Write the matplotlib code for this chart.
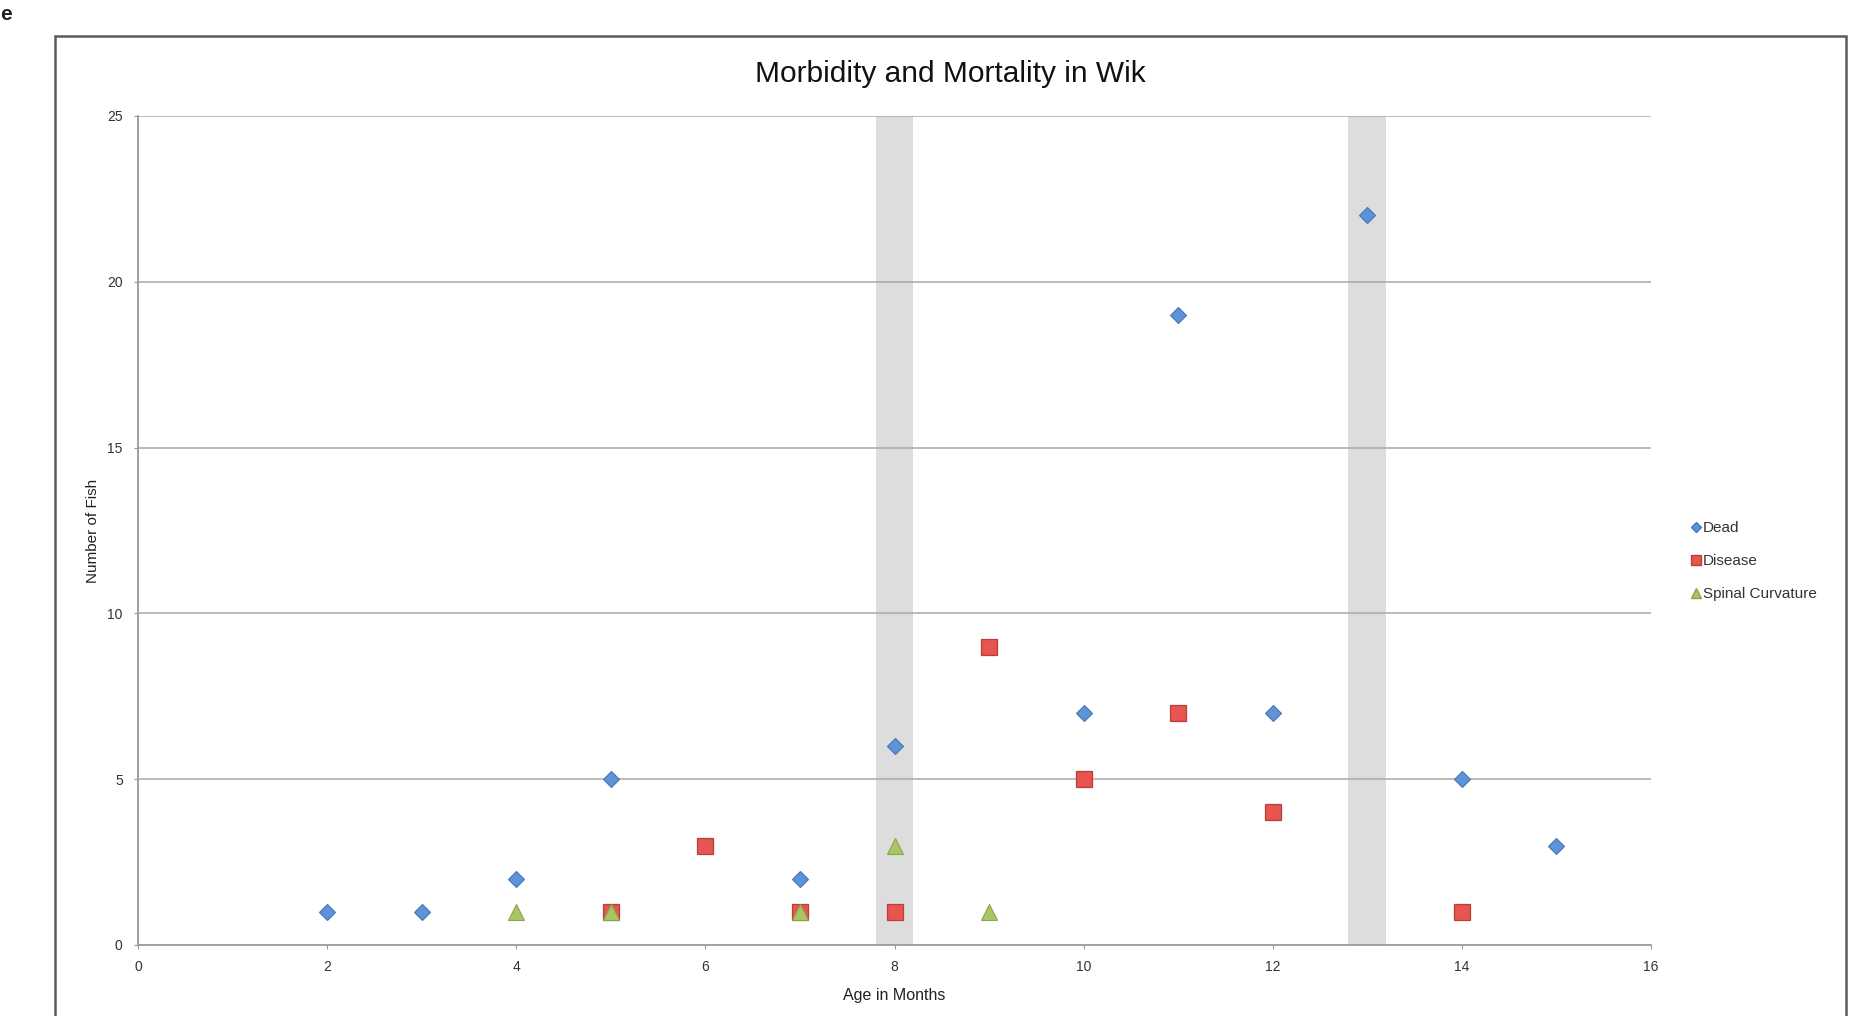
import matplotlib
matplotlib.use("Agg")
import matplotlib.pyplot as plt
from matplotlib.patches import Rectangle
from matplotlib.lines import Line2D

plt.rcParams['font.family'] = ['Liberation Sans', 'DejaVu Sans']

# Age (months) vs number of fish
dead_age = [2, 3, 4, 5, 7, 8, 10, 11, 12, 13, 14, 15]
dead_count = [1, 1, 2, 5, 2, 6, 7, 19, 7, 22, 5, 3]

disease_age = [5, 6, 7, 8, 9, 10, 11, 12, 14]
disease_count = [1, 3, 1, 1, 9, 5, 7, 4, 1]

spinal_age = [4, 5, 7, 8, 9]
spinal_count = [1, 1, 1, 3, 1]

# highlighted months
shaded_months = [8, 13]
shade_halfwidth = 0.2

x_ticks = [0, 2, 4, 6, 8, 10, 12, 14, 16]
y_ticks = [0, 5, 10, 15, 20, 25]

fig = plt.figure(figsize=(18.72, 10.16), dpi=100)
fig.patch.set_facecolor('white')

# outer frame round the chart
fig.patches.append(Rectangle((55 / 1872, -0.05), (1846 - 55) / 1872, 1.05 - 36 / 1016,
                             transform=fig.transFigure, fill=False,
                             edgecolor='#5a5a5a', linewidth=1.8))
fig.text(0.0, 1 - 14 / 1016, 'e', fontsize=15, fontweight='bold',
         ha='left', va='center', color='#222222')

ax = fig.add_axes([138 / 1872, 1 - 945 / 1016, (1651 - 138) / 1872, (945 - 116) / 1016])

for m in shaded_months:
    ax.axvspan(m - shade_halfwidth, m + shade_halfwidth, color='#dcdddc', zorder=0, lw=0)

for y in y_ticks[1:]:
    ax.axhline(y, color='#a8a8a8', lw=1.1, zorder=1)

ax.plot(dead_age, dead_count, linestyle='none', marker='D', markersize=8.3,
        markerfacecolor='#5e93d8', markeredgecolor='#4676b8', markeredgewidth=0.8,
        label='Dead', zorder=3)
ax.plot(disease_age, disease_count, linestyle='none', marker='s', markersize=11.5,
        markerfacecolor='#e8544f', markeredgecolor='#b8403c', markeredgewidth=0.9,
        label='Disease', zorder=4)
ax.plot(spinal_age, spinal_count, linestyle='none', marker='^', markersize=11,
        markerfacecolor='#a9c565', markeredgecolor='#8aa84a', markeredgewidth=0.8,
        label='Spinal Curvature', zorder=5)

ax.set_xlim(0, 16)
ax.set_ylim(0, 25)
ax.set_xticks(x_ticks)
ax.set_yticks(y_ticks)
ax.tick_params(labelsize=10, length=3, width=0.8, color='#999999', pad=8, labelcolor='#333333')

for side in ['top', 'right']:
    ax.spines[side].set_visible(False)
for side in ['left', 'bottom']:
    ax.spines[side].set_color('#999999')
    ax.spines[side].set_linewidth(1.3)

ax.set_xlabel('Age in Months', fontsize=11.5, labelpad=10, color='#222222')
ax.set_ylabel('Number of Fish', fontsize=11, labelpad=5, color='#222222')

fig.text(950 / 1872, 1 - 74 / 1016, 'Morbidity and Mortality in Wik', fontsize=21.5,
         ha='center', va='center', color='#111111')

handles = [
    Line2D([], [], linestyle='none', marker='D', markersize=5, markerfacecolor='#5e93d8',
           markeredgecolor='#4676b8'),
    Line2D([], [], linestyle='none', marker='s', markersize=7, markerfacecolor='#e8544f',
           markeredgecolor='#b8403c'),
    Line2D([], [], linestyle='none', marker='^', markersize=7, markerfacecolor='#a9c565',
           markeredgecolor='#8aa84a'),
]
fig.legend(handles, ['Dead', 'Disease', 'Spinal Curvature'], loc='center left',
           bbox_to_anchor=(1684 / 1872, 1 - 561 / 1016), frameon=False, fontsize=11,
           handlelength=0.6, handletextpad=0.15, labelspacing=1.25, borderpad=0,
           labelcolor='#333333')

fig.savefig('out.png', dpi=100, facecolor='white')
